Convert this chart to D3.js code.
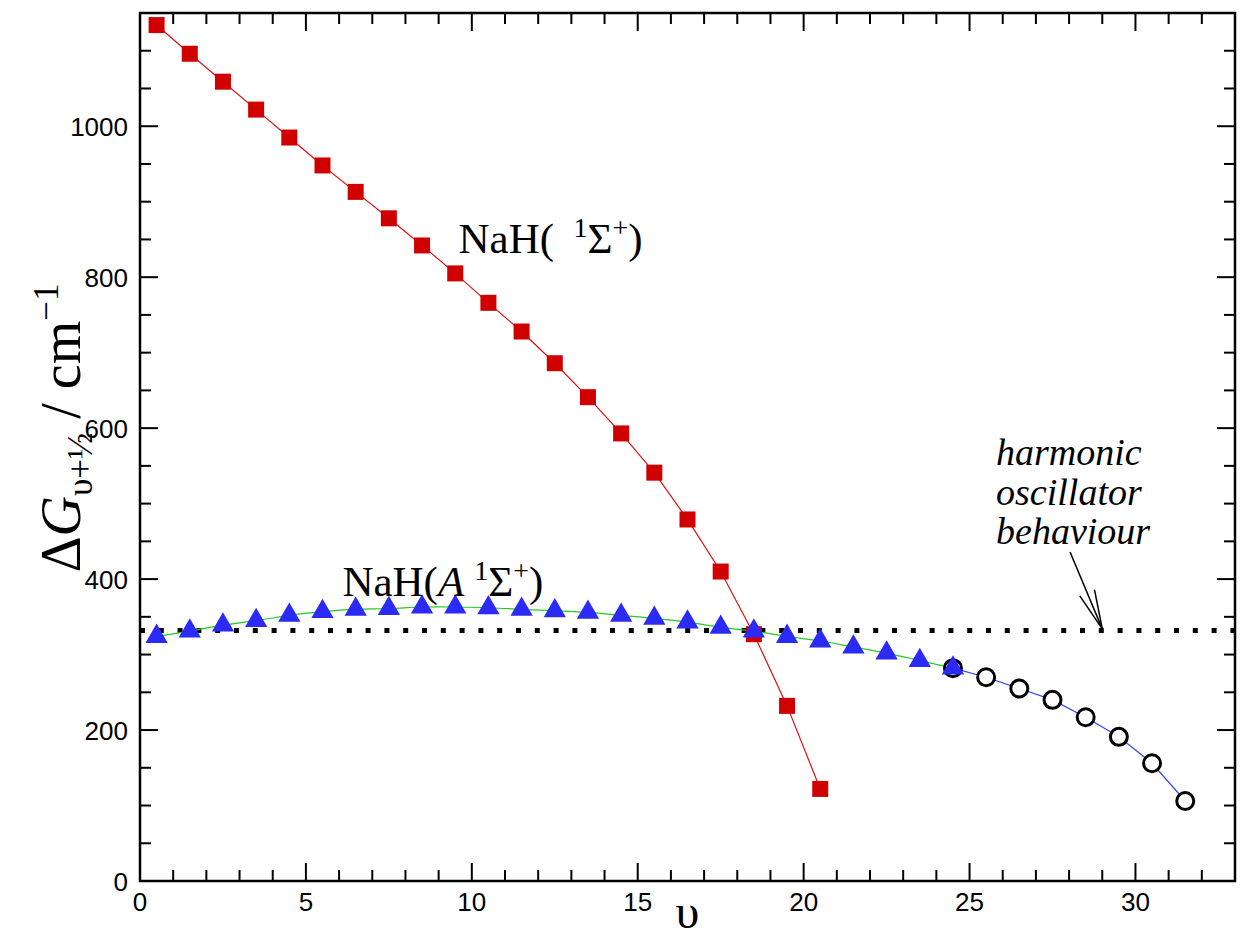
<!DOCTYPE html>
<html lang="en">
<head>
  <meta charset="UTF-8">
  <title>NaH vibrational spacings</title>
  <script src="https://d3js.org/d3.v7.min.js"></script>
  <style>
    body { margin: 0; background: #fff; }
    svg { display: block; }
    .tick-label { font-family: "Liberation Sans", Arial, sans-serif; font-size: 26px; fill: #000; }
    .serif { font-family: "Liberation Serif", "Times New Roman", serif; fill: #000; }
  </style>
</head>
<body>
<svg id="chart" width="1241" height="940"></svg>
<script>
  // ground state X 1Sigma+
  const vGround = [0.5,1.5,2.5,3.5,4.5,5.5,6.5,7.5,8.5,9.5,10.5,11.5,12.5,13.5,14.5,15.5,16.5,17.5,18.5,19.5,20.5];
  const dgGround = [1134,1096,1059,1022,985,948,913,878,842,805,766,728,686,641,593,541,479,410,327,232,122];

  // excited state A 1Sigma+ (triangles)
  const vExcited = [0.5,1.5,2.5,3.5,4.5,5.5,6.5,7.5,8.5,9.5,10.5,11.5,12.5,13.5,14.5,15.5,16.5,17.5,18.5,19.5,20.5,21.5,22.5,23.5,24.5];
  const dgExcited = [324,331,339,345,352,357,360,361,363,363,362,360,358,356,352,348,343,336,331,324,318,310,302,292,282];

  // open circles, upper levels of the A state
  const vUpper = [24.5,25.5,26.5,27.5,28.5,29.5,30.5,31.5];
  const dgUpper = [282,270,255,240,217,191,156,106];

  const harmonic = 332;
  const xTicks = [0,5,10,15,20,25,30];
  const yTicks = [0,200,400,600,800,1000];

  const svg = d3.select("#chart");
  const m = { left: 140, top: 13, right: 1235, bottom: 881 };

  const x = d3.scaleLinear().domain([0,33]).range([m.left, m.right]);
  const y = d3.scaleLinear().domain([0,1150]).range([m.bottom, m.top]);

  // ticks on all four sides, pointing inward
  const g = svg.append("g").attr("stroke", "#000").attr("stroke-width", 2);
  d3.range(0, 34, 1).forEach(t => {
    const len = t % 5 === 0 ? 18 : 11;
    g.append("line").attr("x1", x(t)).attr("x2", x(t)).attr("y1", m.bottom).attr("y2", m.bottom - len);
    g.append("line").attr("x1", x(t)).attr("x2", x(t)).attr("y1", m.top).attr("y2", m.top + len);
  });
  d3.range(0, 1151, 50).forEach(t => {
    const len = t % 200 === 0 ? 18 : 11;
    g.append("line").attr("y1", y(t)).attr("y2", y(t)).attr("x1", m.left).attr("x2", m.left + len);
    g.append("line").attr("y1", y(t)).attr("y2", y(t)).attr("x1", m.right).attr("x2", m.right - len);
  });
  svg.append("rect")
    .attr("x", m.left).attr("y", m.top)
    .attr("width", m.right - m.left).attr("height", m.bottom - m.top)
    .attr("fill", "none").attr("stroke", "#000").attr("stroke-width", 2.5);

  svg.selectAll(".xl").data(xTicks).join("text")
    .attr("class", "tick-label")
    .attr("x", d => x(d)).attr("y", m.bottom + 30)
    .attr("text-anchor", "middle").text(d => d);
  svg.selectAll(".yl").data(yTicks).join("text")
    .attr("class", "tick-label")
    .attr("x", m.left - 12).attr("y", d => y(d) + 9.5)
    .attr("text-anchor", "end").text(d => d);

  // harmonic oscillator reference line
  svg.append("line")
    .attr("x1", x(0)).attr("x2", x(33))
    .attr("y1", y(harmonic)).attr("y2", y(harmonic))
    .attr("stroke", "#000").attr("stroke-width", 5)
    .attr("stroke-dasharray", "5,13.8");

  const line = d3.line().x(d => x(d[0])).y(d => y(d[1]));
  const ground = d3.zip(vGround, dgGround);
  const excited = d3.zip(vExcited, dgExcited);
  const upper = d3.zip(vUpper, dgUpper);

  svg.append("path").attr("d", line.curve(d3.curveNatural)(excited))
    .attr("fill", "none").attr("stroke", "#22cc22").attr("stroke-width", 1.2);
  svg.append("path").attr("d", line.curve(d3.curveLinear)(upper))
    .attr("fill", "none").attr("stroke", "#3344ff").attr("stroke-width", 1.2);
  svg.append("path").attr("d", line.curve(d3.curveLinear)(ground))
    .attr("fill", "none").attr("stroke", "#dd1111").attr("stroke-width", 1.2);

  svg.selectAll(".sq").data(ground).join("rect")
    .attr("x", d => x(d[0]) - 8).attr("y", d => y(d[1]) - 8)
    .attr("width", 16).attr("height", 16)
    .attr("fill", "#d10000");

  svg.selectAll(".circ").data(upper).join("circle")
    .attr("cx", d => x(d[0])).attr("cy", d => y(d[1])).attr("r", 8.5)
    .attr("fill", "#fff").attr("stroke", "#000").attr("stroke-width", 3);

  const tri = d3.symbol().type(d3.symbolTriangle).size(215);
  svg.selectAll(".tri").data(excited).join("path")
    .attr("transform", d => `translate(${x(d[0])},${y(d[1])})`)
    .attr("d", tri).attr("fill", "#2b2bf5");

  // state labels
  const lab1 = svg.append("text").attr("class", "serif").attr("font-size", 43)
    .attr("x", x(9.6)).attr("y", y(832));
  lab1.append("tspan").text("NaH(\u2009 ");
  lab1.append("tspan").attr("font-size", 28).attr("dy", -16).text("1");
  lab1.append("tspan").attr("dy", 16).text("\u03A3");
  lab1.append("tspan").attr("font-size", 28).attr("dy", -16).text("+");
  lab1.append("tspan").attr("dy", 16).text(")");

  const lab2 = svg.append("text").attr("class", "serif").attr("font-size", 43)
    .attr("x", x(6.1)).attr("y", y(378));
  lab2.append("tspan").text("NaH(");
  lab2.append("tspan").attr("font-style", "italic").text("A ");
  lab2.append("tspan").attr("font-size", 28).attr("dy", -16).text("1");
  lab2.append("tspan").attr("dy", 16).text("\u03A3");
  lab2.append("tspan").attr("font-size", 28).attr("dy", -16).text("+");
  lab2.append("tspan").attr("dy", 16).text(")");

  // annotation
  const notes = ["harmonic", "oscillator", "behaviour"];
  const noteY = [551, 498, 447];
  svg.selectAll(".note").data(notes).join("text")
    .attr("class", "serif").attr("font-size", 38).attr("font-style", "italic")
    .attr("x", x(25.8)).attr("y", (d, i) => y(noteY[i])).text(d => d);

  const ax0 = x(28.03), ay0 = y(436), ax1 = x(29.0), ay1 = y(334);
  const ang = Math.atan2(ay1 - ay0, ax1 - ax0);
  const ah = svg.append("g").attr("stroke", "#000").attr("stroke-width", 1.5).attr("fill", "none");
  ah.append("line").attr("x1", ax0).attr("y1", ay0).attr("x2", ax1).attr("y2", ay1);
  [-0.2, 0.2].forEach(a => {
    ah.append("line").attr("x1", ax1).attr("y1", ay1)
      .attr("x2", ax1 - 40 * Math.cos(ang + a)).attr("y2", ay1 - 40 * Math.sin(ang + a));
  });

  // axis titles
  svg.append("text").attr("class", "serif").attr("font-size", 48)
    .attr("x", (m.left + m.right) / 2).attr("y", 928).attr("text-anchor", "middle").text("\u03C5");

  const yt = svg.append("text").attr("class", "serif").attr("font-size", 56)
    .attr("transform", `translate(80,428) rotate(-90)`)
    .attr("text-anchor", "middle");
  yt.append("tspan").text("\u0394");
  yt.append("tspan").attr("font-style", "italic").text("G");
  yt.append("tspan").attr("font-size", 35).attr("dy", 12).text("\u03C5+\u00BD");
  yt.append("tspan").attr("dy", -12).text(" / cm");
  yt.append("tspan").attr("font-size", 35).attr("dy", -22).text("\u22121");
</script>
</body>
</html>
